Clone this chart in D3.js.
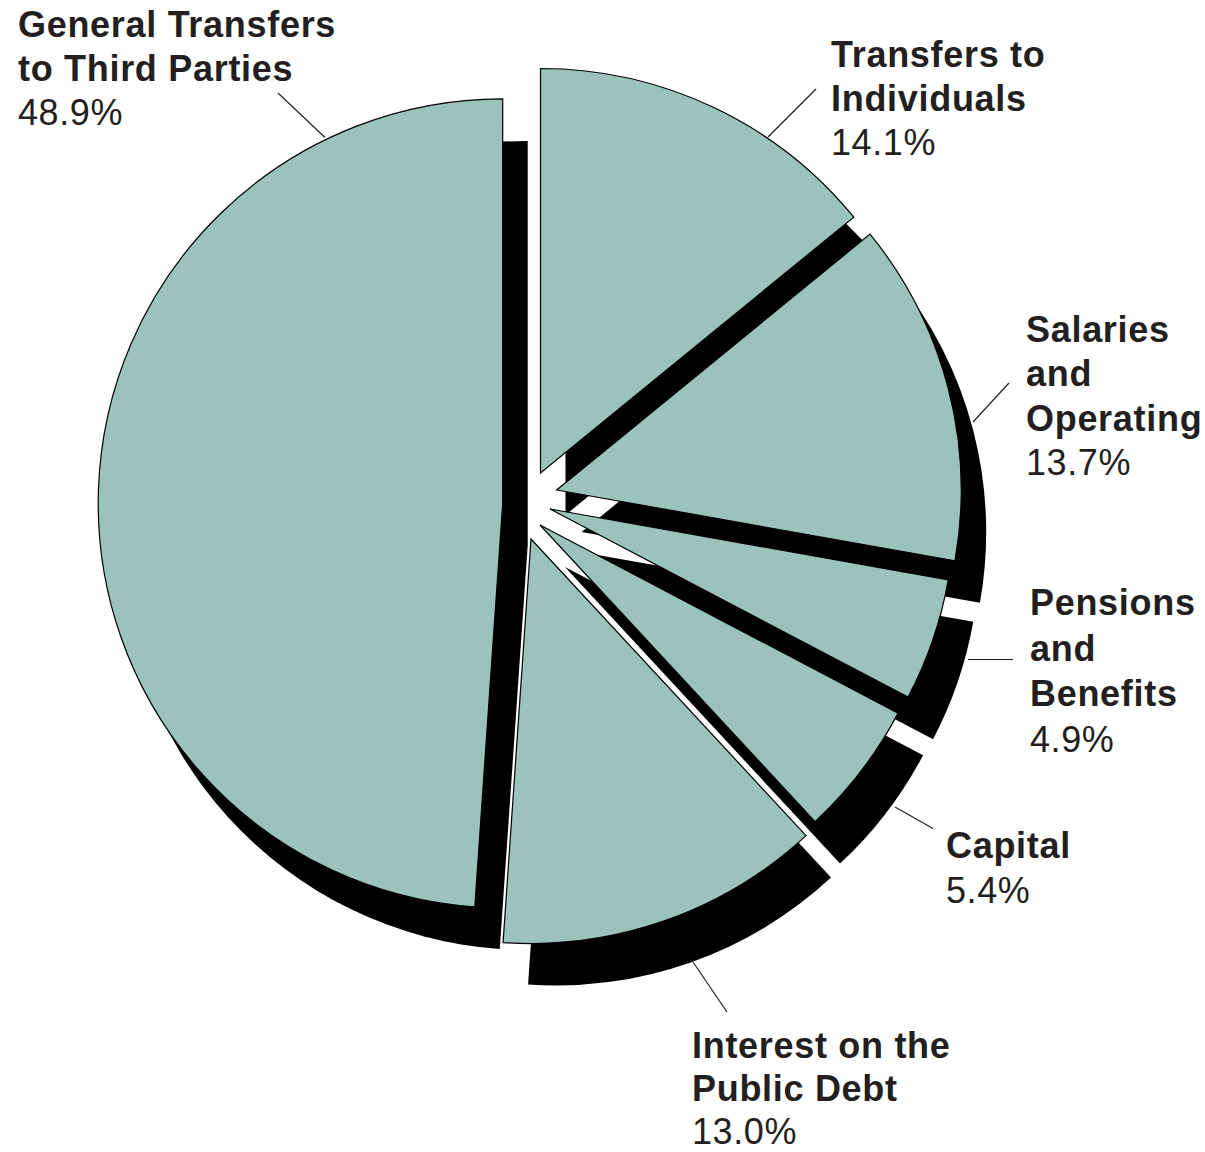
<!DOCTYPE html>
<html>
<head>
<meta charset="utf-8">
<script src="https://cdn.jsdelivr.net/npm/d3@7"></script>
<style>
  body { margin: 0; background: #fff; }
  svg { display: block; }
  text { font-family: "Liberation Sans", Arial, Helvetica, sans-serif; fill: #231f20; }
</style>
</head>
<body>
<svg id="chart" width="1205" height="1152"></svg>
<script>
// Spending shares, clockwise from 12 o'clock
const categories = [
  "Transfers to Individuals",
  "Salaries and Operating",
  "Pensions and Benefits",
  "Capital",
  "Interest on the Public Debt",
  "General Transfers to Third Parties"
];
const shares = [14.1, 13.7, 4.9, 5.4, 13.0, 48.9];
const labelLines = [
  ["Transfers to", "Individuals"],
  ["Salaries", "and", "Operating"],
  ["Pensions", "and", "Benefits"],
  ["Capital"],
  ["Interest on the", "Public Debt"],
  ["General Transfers", "to Third Parties"]
];

// ---- layout ----
const radius = 404.5;
const shadowOffset = [25, 42];
const fillColor = "#9bc3b9";
// tip of each exploded wedge
const apex = {
  "Transfers to Individuals": [540.5, 473],
  "Salaries and Operating": [556.7, 490],
  "Pensions and Benefits": [550, 509],
  "Capital": [540, 525],
  "Interest on the Public Debt": [531, 539],
  "General Transfers to Third Parties": [502.7, 503.4]
};
// label block: left x, first baseline, line step
const labelPos = {
  "Transfers to Individuals": [831, 66.5, 44],
  "Salaries and Operating": [1026, 342, 44.3],
  "Pensions and Benefits": [1030, 615, 45.5],
  "Capital": [946, 858, 45],
  "Interest on the Public Debt": [692, 1057.5, 43.3],
  "General Transfers to Third Parties": [18, 36.5, 44.3]
};
// leader lines
const leaders = {
  "Transfers to Individuals": [[816, 89], [768, 137]],
  "Salaries and Operating": [[1009, 383], [973, 422]],
  "Pensions and Benefits": [[968, 659.5], [1013, 659.5]],
  "Capital": [[895, 807], [933, 828.5]],
  "Interest on the Public Debt": [[693, 962], [727, 1012]],
  "General Transfers to Third Parties": [[278, 93], [325, 137.5]]
};
const fontSize = 36;

const svg = d3.select("#chart");

const pie = d3.pie().sort(null).value(d => d.value).startAngle(0).endAngle(2 * Math.PI);
const arc = d3.arc().innerRadius(0).outerRadius(radius);

const data = categories.map((c, i) => ({ name: c, value: shares[i], lines: labelLines[i] }));
const arcs = pie(data);

// shadows beneath every wedge
svg.append("g").attr("class", "shadows")
  .selectAll("path").data(arcs).join("path")
  .attr("transform", d => {
    const p = apex[d.data.name];
    return `translate(${p[0] + shadowOffset[0]},${p[1] + shadowOffset[1]})`;
  })
  .attr("d", arc)
  .attr("fill", "#000");

// wedges
svg.append("g").attr("class", "slices")
  .selectAll("path").data(arcs).join("path")
  .attr("transform", d => {
    const p = apex[d.data.name];
    return `translate(${p[0]},${p[1]})`;
  })
  .attr("d", arc)
  .attr("fill", fillColor)
  .attr("stroke", "#000")
  .attr("stroke-width", 1.2)
  .attr("stroke-linejoin", "miter");

// leader lines
svg.append("g").attr("class", "leaders")
  .selectAll("line").data(data).join("line")
  .attr("x1", d => leaders[d.name][0][0])
  .attr("y1", d => leaders[d.name][0][1])
  .attr("x2", d => leaders[d.name][1][0])
  .attr("y2", d => leaders[d.name][1][1])
  .attr("stroke", "#231f20")
  .attr("stroke-width", 1.2);

// labels: bold name lines, then the share
const fmt = d3.format(".1f");
const labels = svg.append("g").attr("class", "labels")
  .selectAll("text").data(data).join("text")
  .attr("x", d => labelPos[d.name][0])
  .attr("y", d => labelPos[d.name][1])
  .attr("font-size", fontSize);

labels.each(function (d) {
  const t = d3.select(this);
  const [x, , step] = labelPos[d.name];
  d.lines.forEach((ln, i) => {
    t.append("tspan")
      .attr("x", x)
      .attr("dy", i === 0 ? 0 : step)
      .attr("font-weight", "bold")
      .attr("letter-spacing", 0.7)
      .text(ln);
  });
  t.append("tspan")
    .attr("x", x)
    .attr("dy", step)
    .attr("font-weight", "normal")
    .attr("letter-spacing", 0.6)
    .text(fmt(d.value) + "%");
});
</script>
</body>
</html>
